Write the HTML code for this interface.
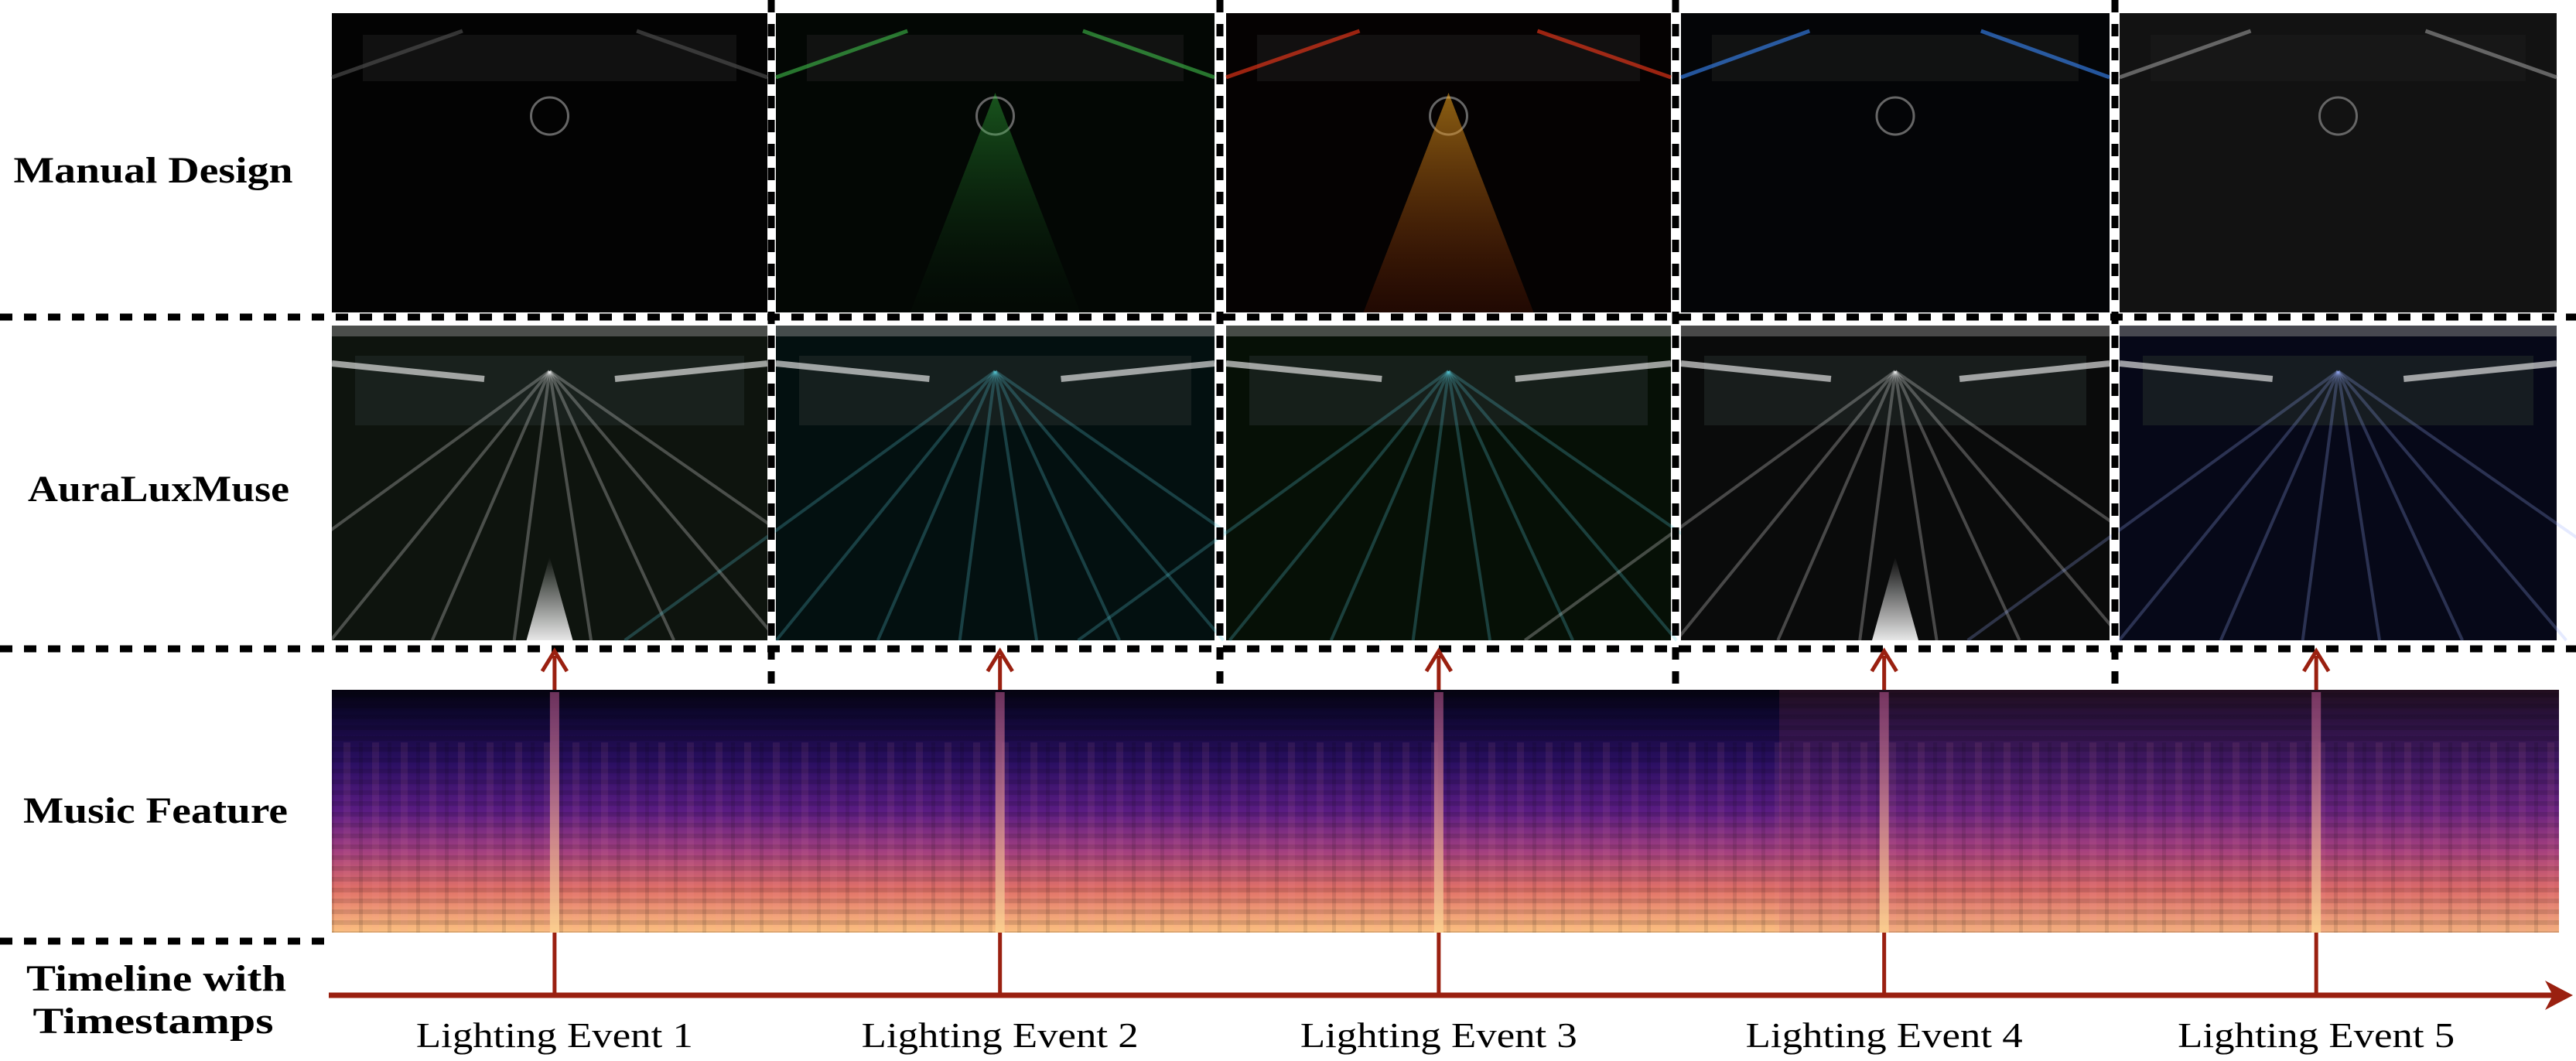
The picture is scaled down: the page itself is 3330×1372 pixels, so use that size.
<!DOCTYPE html>
<html><head><meta charset="utf-8"><style>
html,body{margin:0;padding:0;background:#fff;}
svg{display:block;}
.lbl{font-family:"Liberation Serif",serif;font-weight:bold;font-size:48px;fill:#000;text-anchor:middle;}
.ev{font-family:"Liberation Serif",serif;font-size:46px;fill:#000;text-anchor:middle;}
</style></head><body>
<svg id="fig" width="3330" height="1372" viewBox="0 0 3330 1372" xmlns="http://www.w3.org/2000/svg">
<defs>
<linearGradient id="spec" x1="0" y1="0" x2="0" y2="1">
<stop offset="0" stop-color="#05030f"/><stop offset="0.1" stop-color="#0e0730"/>
<stop offset="0.3" stop-color="#2a0f62"/><stop offset="0.5" stop-color="#5a1c82"/>
<stop offset="0.66" stop-color="#a03e80"/><stop offset="0.82" stop-color="#e07068"/>
<stop offset="1" stop-color="#fbc080"/></linearGradient>
<pattern id="bands" width="3000" height="14" patternUnits="userSpaceOnUse">
<rect width="3000" height="6" fill="#000" opacity="0.12"/></pattern>
<pattern id="vbands" width="37" height="400" patternUnits="userSpaceOnUse">
<rect width="9" height="400" fill="#ff9aa0" opacity="0.08"/><rect x="20" width="5" height="400" fill="#000" opacity="0.1"/></pattern>
<linearGradient id="stripe" x1="0" y1="0" x2="0" y2="1">
<stop offset="0" stop-color="#b0508a" stop-opacity="0.6"/><stop offset="1" stop-color="#fcd090" stop-opacity="0.9"/></linearGradient>
<linearGradient id="bw" x1="0" y1="1" x2="0" y2="0">
<stop offset="0" stop-color="#fff" stop-opacity="0.9"/><stop offset="1" stop-color="#fff" stop-opacity="0"/></linearGradient>
<linearGradient id="org" x1="0" y1="0" x2="0" y2="1">
<stop offset="0" stop-color="#ffb020" stop-opacity="0.9"/><stop offset="1" stop-color="#a02a05" stop-opacity="0.3"/></linearGradient>
<linearGradient id="grn" x1="0" y1="0" x2="0" y2="1">
<stop offset="0" stop-color="#3fe04a" stop-opacity="0.6"/><stop offset="1" stop-color="#0a3010" stop-opacity="0.1"/></linearGradient>
</defs>
<g id="panels"></g>
<g id="spectro"></g>
<g id="timeline"></g>
<text class="lbl" x="198" y="236" textLength="361" lengthAdjust="spacingAndGlyphs">Manual Design</text>
<text class="lbl" x="205" y="648" textLength="338" lengthAdjust="spacingAndGlyphs">AuraLuxMuse</text>
<text class="lbl" x="201" y="1064" textLength="342" lengthAdjust="spacingAndGlyphs">Music Feature</text>
<text class="lbl" x="202" y="1281" textLength="336" lengthAdjust="spacingAndGlyphs">Timeline with</text>
<text class="lbl" x="198" y="1336" textLength="311" lengthAdjust="spacingAndGlyphs">Timestamps</text>
</svg>
<script>
const NS="http://www.w3.org/2000/svg";
const eventLabels=["Lighting Event 1","Lighting Event 2","Lighting Event 3","Lighting Event 4","Lighting Event 5"];
const eventTimes=[0.1,0.3,0.497,0.697,0.891]; // fraction of timeline
const panelX=[429,1003,1585,2173,2740];
const panelW=[563,567,575,554,565];
const row1Bg=["#030303","#030704","#050202","#040507","#121212"];
const row2Bg=["#0e140e","#031010","#061006","#0a0b0b","#060818"];
const row2Beam=["#ffffff","#5ad0e0","#5ad0e0","#ffffff","#9ab0ff"];
const row1Beam=["#555","#3fbf4a","#ff3a1a","#3a8aff","#999"];
function el(t,a,p){const e=document.createElementNS(NS,t);for(const k in a)e.setAttribute(k,a[k]);p.appendChild(e);return e;}
const tx=f=>429+f*(3308-429);
const P=document.getElementById('panels');
for(let i=0;i<5;i++){
 const x=panelX[i],w=panelW[i];
 let r=el('rect',{x:x,y:17,width:w,height:387,fill:row1Bg[i]},P);
 
 
 el('rect',{x:x+40,y:45,width:w-80,height:60,fill:'#1a1a1a',opacity:0.6},P);
 el('circle',{cx:x+w/2,cy:150,r:24,fill:'none',stroke:'#666','stroke-width':3},P);
 const cx=x+w/2;
 if(i==1||i==2) el('polygon',{points:`${cx},120 ${cx-110},404 ${cx+110},404`,fill:i==2?'url(#org)':'url(#grn)',opacity:0.6},P);
 el('line',{x1:x,y1:100,x2:x+w*0.3,y2:40,stroke:row1Beam[i],'stroke-width':5,opacity:0.6},P);
 el('line',{x1:x+w,y1:100,x2:x+w*0.7,y2:40,stroke:row1Beam[i],'stroke-width':5,opacity:0.6},P);
 let r2=el('rect',{x:x,y:421,width:w,height:407,fill:row2Bg[i]},P);
 
 
 el('rect',{x:x,y:421,width:w,height:14,fill:'#888',opacity:0.5},P);
 el('rect',{x:x+30,y:460,width:w-60,height:90,fill:'#222a28',opacity:0.6},P);
 for(let k=0;k<8;k++){
  const a=-0.9+k*0.26;
  el('line',{x1:cx,y1:480,x2:cx+Math.tan(a)*380,y2:828,stroke:row2Beam[i],'stroke-width':4,opacity:0.25},P);
 }
 if(i==0||i==3) el('polygon',{points:`${cx},720 ${cx-30},828 ${cx+30},828`,fill:'url(#bw)'},P);
 el('line',{x1:x,y1:470,x2:x+w*0.35,y2:490,stroke:'#fff','stroke-width':8,opacity:0.6},P);
 el('line',{x1:x+w,y1:470,x2:x+w*0.65,y2:490,stroke:'#fff','stroke-width':8,opacity:0.6},P);
}
function dash(x1,y1,x2,y2){el('line',{x1,y1,x2,y2,stroke:'#000','stroke-width':9,'stroke-dasharray':'16 15'},P);}
dash(0,410,3330,410);dash(0,839,3330,839);dash(0,1217,425,1217);
[997,1577,2166,2734].forEach(x=>dash(x,0,x,892));
const S=document.getElementById('spectro');
let sp=el('rect',{x:429,y:892,width:2879,height:314,fill:'url(#spec)'},S);


el('rect',{x:2300,y:892,width:1008,height:314,fill:'#c05070',opacity:0.15},S);
el('rect',{x:429,y:892,width:2879,height:314,fill:'url(#bands)'},S);
el('rect',{x:429,y:960,width:2879,height:246,fill:'url(#vbands)'},S);
eventTimes.forEach((f,i)=>{
 let s=el('rect',{x:tx(f)-6,y:895,width:12,height:311,fill:'url(#stripe)'},S);
 
 
});
const T=document.getElementById('timeline');
let ax=el('line',{x1:425,y1:1287,x2:3300,y2:1287,stroke:'#9a2010','stroke-width':7},T);


el('polygon',{points:'3290,1268 3326,1287 3290,1306 3300,1287',fill:'#9a2010'},T);
eventTimes.forEach((f,i)=>{
 const x=tx(f);
 let t=el('line',{x1:x,y1:1206,x2:x,y2:1287,stroke:'#9a2010','stroke-width':5},T);
 
 
 let a=el('path',{d:`M${x},892 L${x},848 M${x-16},868 L${x},842 L${x+16},868`,stroke:'#9a2010','stroke-width':5,fill:'none'},T);
 
 
 let lb=el('text',{x:x,y:1354,class:'ev',textLength:358,lengthAdjust:'spacingAndGlyphs'},T);
 lb.textContent=eventLabels[i];
 
 
});
</script>
</body></html>
